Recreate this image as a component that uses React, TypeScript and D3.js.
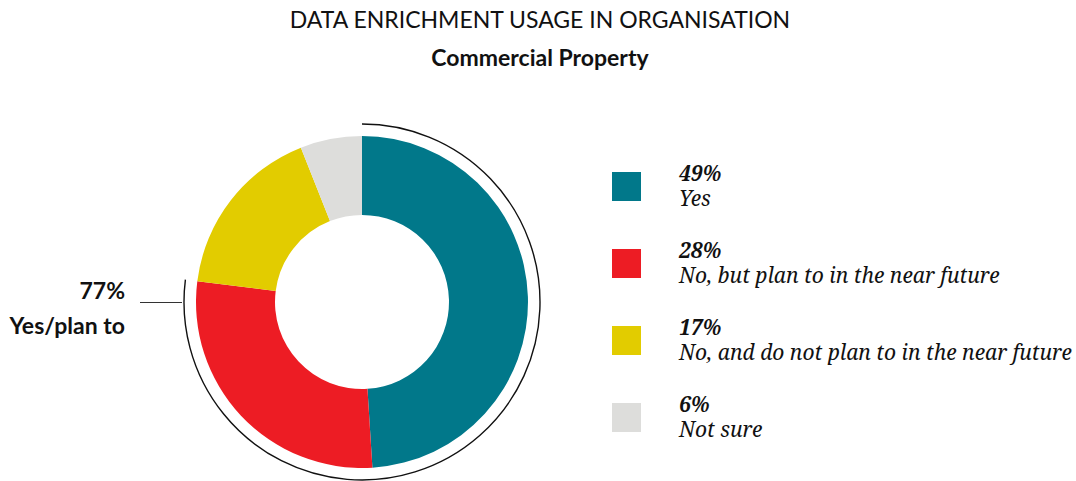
import React from "react";
import * as d3 from "d3";

const categories = [
  "Yes",
  "No, but plan to in the near future",
  "No, and do not plan to in the near future",
  "Not sure",
];
const values = [49, 28, 17, 6];
const colors = ["#01788A", "#ED1C24", "#E2CC00", "#DDDDDB"];
const summaryValue = 77;
const summaryLabel = "Yes/plan to";

const W = 1076;
const H = 481;
const cx = 362;
const cy = 302;
const outerR = 166;
const innerR = 87;
const ringR = 178;

const SANS = "'Source Sans Pro', Lato, 'Noto Sans', sans-serif";
const SERIF = "'Noto Serif', 'DejaVu Serif', 'Liberation Serif', serif";

export default function App() {
  const pie = d3
    .pie<number>()
    .sort(null)
    .value((d) => d)
    .startAngle(0)
    .endAngle(2 * Math.PI);
  const arcs = pie(values);
  const arcGen = d3.arc<d3.PieArcDatum<number>>().innerRadius(innerR).outerRadius(outerR);

  // outer bracket arc spanning the combined "yes / plan to" share
  const total = d3.sum(values);
  const ringAngle = d3.scaleLinear().domain([0, total]).range([0, 2 * Math.PI]);
  const ringPath = d3.arc()({
    innerRadius: ringR,
    outerRadius: ringR,
    startAngle: 0,
    endAngle: ringAngle(summaryValue),
  } as any);

  const legendY = d3.scaleBand<number>().domain(d3.range(values.length)).range([172, 172 + 77 * 4]);

  return (
    <svg width={W} height={H} style={{ position: "absolute", left: 0, top: 0 }}>
      <text x={540} y={28} textAnchor="middle" fontFamily={SANS} fontSize={23} fill="#111">
        DATA ENRICHMENT USAGE IN ORGANISATION
      </text>
      <text x={540} y={66} textAnchor="middle" fontFamily={SANS} fontWeight={700} fontSize={23} fill="#111">
        Commercial Property
      </text>

      <g transform={`translate(${cx},${cy})`}>
        {arcs.map((a, i) => (
          <path key={categories[i]} d={arcGen(a) || ""} fill={colors[i]} />
        ))}
        <path d={ringPath || ""} fill="none" stroke="#111" strokeWidth={1.4} />
      </g>

      <line x1={140} x2={182} y1={302.5} y2={302.5} stroke="#333" strokeWidth={1.2} />
      <text x={125} y={299} textAnchor="end" fontFamily={SANS} fontWeight={700} fontSize={23} fill="#111">
        {summaryValue}%
      </text>
      <text x={125} y={334} textAnchor="end" fontFamily={SANS} fontWeight={700} fontSize={23} fill="#111">
        {summaryLabel}
      </text>

      {categories.map((c, i) => {
        const y = legendY(i) as number;
        return (
          <g key={c}>
            <rect x={612} y={y} width={29} height={29} fill={colors[i]} />
            <text x={679} y={y + 9} fontFamily={SERIF} fontStyle="italic" fontWeight={700} fontSize={21} fill="#111">
              {values[i]}%
            </text>
            <text x={679} y={y + 34} fontFamily={SERIF} fontStyle="italic" fontSize={21} fill="#111">
              {c}
            </text>
          </g>
        );
      })}
    </svg>
  );
}
